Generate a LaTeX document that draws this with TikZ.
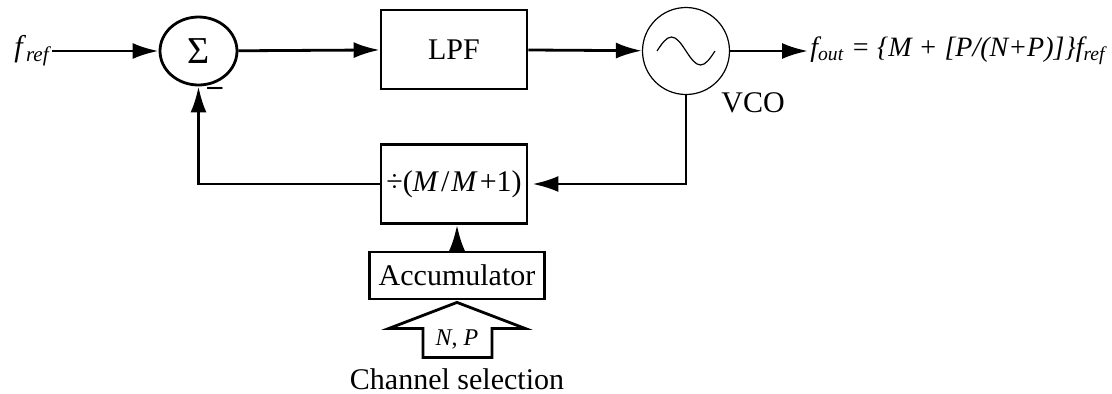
\documentclass[tikz,border=0pt]{standalone}
\usepackage{fontspec}
\setmainfont{Liberation Serif}
\usetikzlibrary{arrows.meta, shapes.geometric, positioning}
\tikzset{
  blk/.style={draw, line width=1.4pt, minimum width=73pt, minimum height=39.5pt, inner sep=2pt},
  sig/.style={line width=1.4pt, -{Latex[length=13pt,width=8pt]}},
}
\newcommand{\fsub}[2]{\textit{#1}\textsubscript{\itshape #2}}

\begin{document}
\begin{tikzpicture}[x=0.5pt,y=-0.5pt,font=\fontsize{15pt}{17pt}\selectfont,node distance=0.3cm]
\useasboundingbox (0,0) rectangle (1112,393);
% forward path
\node[ellipse,draw,line width=1.4pt,minimum width=38.5pt,minimum height=34pt,inner sep=0pt,font=\fontsize{19pt}{21pt}\selectfont] (sum) at (198.5,51) {Σ};
\node[blk] (lpf) at (454,49.5) {LPF};
\node[circle,draw,line width=0.6pt,minimum size=43.5pt,inner sep=0pt] (vco) at (686,51) {};
\draw[line width=0.6pt] ([xshift=-14.5pt]vco.center) sin ++(14.5,-14) cos ++(14.5,14) sin ++(14.5,14) cos ++(14.5,-14);
\node (vcolab) at (753,103) {VCO};
\node[anchor=east,inner sep=1pt] (fref) at (52,51) {\fsub{f}{ref}};
\node[anchor=west,inner sep=1pt,font=\fontsize{14pt}{16pt}\selectfont] (fout) at (808,51) {\itshape f\textsubscript{out} = \{M + [P/(N+P)]\}f\textsubscript{ref}};
\node[inner sep=0pt] (minus) at (215,91) {\textbf{–}};
% divider and channel select
\node[blk] (div) at (454,184) {÷(\textit{M}\kern1pt/\kern1pt\textit{M}\kern1pt+1)};
\node[blk,minimum width=87.5pt,minimum height=23.5pt] (acc) at (457,275.5) {Accumulator};
\draw[line width=1.4pt] ([yshift=-1pt]acc.south) -- ++(68,26) -- ++(-33,0) -- ++(0,29) -- ++(-69,0) -- ++(0,-29) -- ++(-34,0) -- cycle;
\node[font=\fontsize{12pt}{14pt}\selectfont] (np) at (457,339) {\textit{N}, \textit{P}};
\node[inner sep=0pt] (chsel) at (457,379) {Channel selection};
% connections
\draw[sig] (fref) -- (sum);
\draw[sig] (sum) -- (lpf);
\draw[sig] (lpf) -- (vco);
\draw[sig] (vco) -- (fout);
\draw[sig,shorten >=2pt] (vco.south) |- (div.east);
\draw[sig] (div.west) -| (sum.south);
\draw[sig] (acc.north) -- (acc.north |- div.south);
\end{tikzpicture}
\end{document}
